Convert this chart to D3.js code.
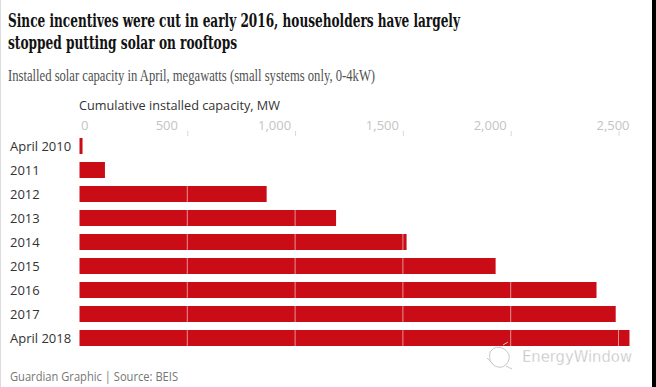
<!DOCTYPE html>
<html>
<head>
<meta charset="utf-8">
<script src="https://cdn.jsdelivr.net/npm/d3@7"></script>
<style>
  html, body { margin: 0; padding: 0; background: #fff; }
  svg { display: block; }
</style>
</head>
<body>
<svg id="chart" width="656" height="387"></svg>
<script>
const categories = ["April 2010", "2011", "2012", "2013", "2014", "2015", "2016", "2017", "April 2018"];
const capacityMW = [14, 118, 868, 1190, 1517, 1930, 2398, 2487, 2551];
const tickValues = [0, 500, 1000, 1500, 2000, 2500];
const titleLines = ["Since incentives were cut in early 2016, householders have largely", "stopped putting solar on rooftops"];
const subtitle = "Installed solar capacity in April, megawatts (small systems only, 0-4kW)";
const axisTitle = "Cumulative installed capacity, MW";
const footer = "Guardian Graphic | Source: BEIS";
const watermark = "EnergyWindow";

const svg = d3.select("#chart");
const W = 656, H = 387;

svg.append("rect").attr("x", 0).attr("y", 0).attr("width", W).attr("height", H).attr("fill", "#fff");
svg.append("line").attr("x1", 0.5).attr("x2", 0.5).attr("y1", 0).attr("y2", H).attr("stroke", "#dcdcdc");
svg.append("rect").attr("x", 652).attr("y", 0).attr("width", 4).attr("height", H).attr("fill", "#000");

const x = d3.scaleLinear().domain([0, 2500]).range([79.5, 618.5]);
const y = d3.scaleBand().domain(categories).range([134, 350]).paddingInner(1/3).paddingOuter(1/6);

// Title
const titleWidths = [452, 229];
titleLines.forEach((t, i) => {
  svg.append("text")
    .attr("x", 8).attr("y", 27 + i * 22)
    .attr("font-family", "'DejaVu Serif Condensed', 'DejaVu Serif', serif")
    .attr("font-weight", "bold")
    .attr("font-stretch", "condensed")
    .attr("font-size", 18.5)
    .attr("fill", "#121212")
    .attr("textLength", titleWidths[i])
    .attr("lengthAdjust", "spacingAndGlyphs")
    .text(t);
});

svg.append("text")
  .attr("x", 8).attr("y", 81)
  .attr("font-family", "'Liberation Serif', 'DejaVu Serif', serif")
  .attr("font-size", 16)
  .attr("fill", "#505050")
  .attr("textLength", 367)
  .attr("lengthAdjust", "spacingAndGlyphs")
  .text(subtitle);

svg.append("text")
  .attr("x", 79).attr("y", 110)
  .attr("font-family", "'Open Sans', 'Noto Sans', sans-serif")
  .attr("font-size", 13)
  .attr("fill", "#333")
  .attr("textLength", 201)
  .attr("lengthAdjust", "spacingAndGlyphs")
  .text(axisTitle);

// Axis (top) with light labels
const axis = d3.axisTop(x).tickValues(tickValues).tickSize(0).tickFormat(d3.format(","));
const axisG = svg.append("g").attr("transform", "translate(0,130)").call(axis);
axisG.select(".domain").remove();
axisG.selectAll(".tick text")
  .attr("font-family", "'Open Sans', 'Noto Sans', sans-serif")
  .attr("font-size", 13)
  .attr("fill", "#c4c4c4")
  .attr("y", 0)
  .attr("dy", 0)
  .attr("text-anchor", (d, i) => i === 0 ? "start" : "middle")
  .attr("dx", (d, i) => i === 0 ? 1 : (i === tickValues.length - 1 ? -6 : -21));
axisG.selectAll(".tick").filter(d => d > 0).append("line")
  .attr("y1", 1).attr("y2", 6).attr("stroke", "#d8d8d8");

// Bars
svg.append("g").selectAll("rect")
  .data(categories)
  .join("rect")
  .attr("x", x(0))
  .attr("y", d => y(d))
  .attr("width", (d, i) => x(capacityMW[i]) - x(0))
  .attr("height", y.bandwidth())
  .attr("fill", "#c90c16");

// gridlines over bars
svg.append("g").selectAll("line")
  .data(tickValues.filter(d => d > 0))
  .join("line")
  .attr("x1", d => x(d)).attr("x2", d => x(d))
  .attr("y1", 136).attr("y2", y.range()[1])
  .attr("stroke", "#ffffff")
  .attr("stroke-opacity", 0.55)
  .attr("stroke-width", 1);

// Category labels
svg.append("g").selectAll("text")
  .data(categories)
  .join("text")
  .attr("x", 10)
  .attr("y", d => y(d) + y.bandwidth() / 2)
  .attr("dy", "0.36em")
  .attr("font-family", "'Open Sans', 'Noto Sans', sans-serif")
  .attr("font-size", 13)
  .attr("fill", "#333")
  .text(d => d);

// Footer
svg.append("text")
  .attr("x", 10).attr("y", 381)
  .attr("font-family", "'Open Sans', 'Noto Sans', sans-serif")
  .attr("font-size", 12.5)
  .attr("fill", "#767676")
  .attr("textLength", 168)
  .attr("lengthAdjust", "spacingAndGlyphs")
  .text(footer);

// Watermark
const wm = svg.append("g").attr("fill", "none").attr("stroke", "#c8c8c8").attr("stroke-width", 1);
wm.append("path").attr("d", "M490,352 q6,-8 14,-3 q8,5 4,13 q-5,8 -13,4 q-7,-4 -5,-14");
wm.append("path").attr("d", "M487,358 l6,6 M503,345 l5,-3 M506,366 l6,3");
svg.append("text")
  .attr("x", 522).attr("y", 362)
  .attr("font-family", "'DejaVu Sans', sans-serif")
  .attr("font-size", 16)
  .attr("fill", "#c4c4c4")
  .attr("stroke", "#ffffff").attr("stroke-width", 0.3)
  .attr("textLength", 110)
  .attr("lengthAdjust", "spacingAndGlyphs")
  .text(watermark);
</script>
</body>
</html>
